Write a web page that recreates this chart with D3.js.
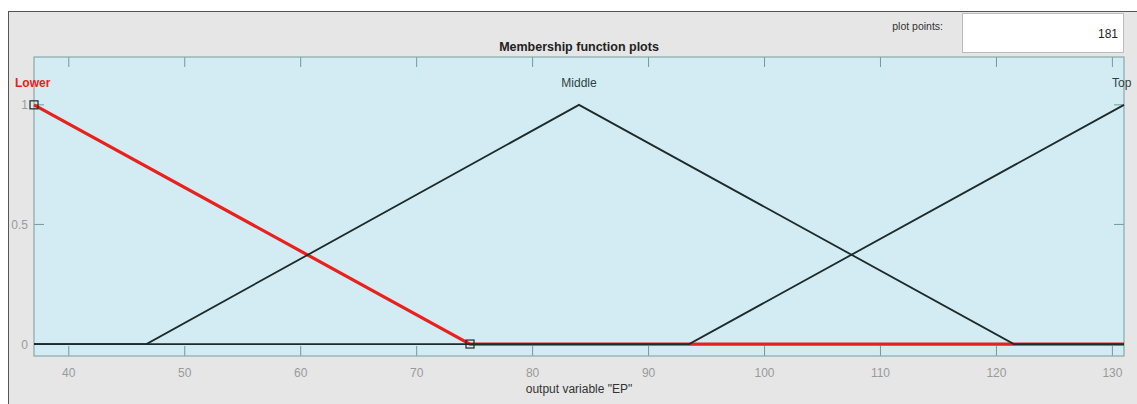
<!DOCTYPE html>
<html><head><meta charset="utf-8">
<script src="https://cdn.jsdelivr.net/npm/d3@7"></script>
<style>body{margin:0;background:#fff;font-family:"Liberation Sans",Arial,sans-serif;}</style>
</head><body>
<svg id="c" width="1137" height="404"></svg>
<script>
const xTicks = [40, 50, 60, 70, 80, 90, 100, 110, 120, 130];
const yTicks = [0, 0.5, 1];
const yTickLabels = ["0", "0.5", "1"];
const mfNames = ["Lower", "Middle", "Top"];
const mfX = [
  [37, 74.6, 131],
  [37, 46.7, 84, 121.5, 131],
  [37, 93.5, 131]
];
const mfY = [
  [1, 0, 0],
  [0, 0, 1, 0, 0],
  [0, 0, 1]
];
const labelX = [37, 84, 131];
const markerX = [37, 74.6];
const markerY = [1, 0];
const plotPoints = "181";

const svg = d3.select("#c");
const W = 1137, H = 404;
const m = {l: 34, r: 1124, t: 57, b: 356};
const x = d3.scaleLinear().domain([37, 131]).range([m.l, m.r]);
const y = d3.scaleLinear().domain([-0.05, 1.2]).range([m.b, m.t]);

// panel
svg.append("rect").attr("x", 8.5).attr("y", 11.5).attr("width", W).attr("height", H)
  .attr("fill", "#e6e6e6").attr("stroke", "#555").attr("stroke-width", 1);

// plot points box
svg.append("text").attr("x", 943).attr("y", 30).attr("text-anchor", "end")
  .attr("font-size", 10.5).attr("fill", "#333").text("plot points:");
svg.append("rect").attr("x", 962.5).attr("y", 13.5).attr("width", 161).attr("height", 39)
  .attr("fill", "#fff").attr("stroke", "#bbb");
svg.append("text").attr("x", 1118).attr("y", 38).attr("text-anchor", "end")
  .attr("font-size", 12).attr("fill", "#222").text(plotPoints);

// title
svg.append("text").attr("x", (m.l + m.r) / 2).attr("y", 51).attr("text-anchor", "middle")
  .attr("font-size", 12.5).attr("font-weight", "bold").attr("fill", "#222").text("Membership function plots");

// plot background
svg.append("rect").attr("x", m.l).attr("y", m.t).attr("width", m.r - m.l).attr("height", m.b - m.t)
  .attr("fill", "#d3ebf2");

// ticks inside
const tickCol = "#6f9c9c";
const g = svg.append("g");
xTicks.forEach(v => {
  g.append("line").attr("x1", x(v)).attr("x2", x(v)).attr("y1", m.b).attr("y2", m.b - 10).attr("stroke", tickCol);
  g.append("line").attr("x1", x(v)).attr("x2", x(v)).attr("y1", m.t).attr("y2", m.t + 10).attr("stroke", tickCol);
  g.append("text").attr("x", x(v)).attr("y", 377).attr("text-anchor", "middle")
    .attr("font-size", 12).attr("fill", "#9a9a9a").text(v);
});
yTicks.forEach((v, i) => {
  g.append("line").attr("x1", m.l).attr("x2", m.l + 10).attr("y1", y(v)).attr("y2", y(v)).attr("stroke", tickCol);
  g.append("line").attr("x1", m.r).attr("x2", m.r - 10).attr("y1", y(v)).attr("y2", y(v)).attr("stroke", tickCol);
  g.append("text").attr("x", 28).attr("y", y(v) + 4.5).attr("text-anchor", "end")
    .attr("font-size", 12).attr("fill", "#9a9a9a").text(yTickLabels[i]);
});

svg.append("rect").attr("x", m.l).attr("y", m.t).attr("width", m.r - m.l).attr("height", m.b - m.t)
  .attr("fill", "none").attr("stroke", "#88aaaa").attr("stroke-width", 1.2);

// x axis label
svg.append("text").attr("x", (m.l + m.r) / 2).attr("y", 393).attr("text-anchor", "middle")
  .attr("font-size", 12).attr("fill", "#333").text('output variable "EP"');

// lines
const line = d3.line().x(d => x(d[0])).y(d => y(d[1]));
const order = [0, 1, 2];
order.forEach(i => {
  const pts = mfX[i].map((v, j) => [v, mfY[i][j]]);
  svg.append("path").attr("d", line(pts)).attr("fill", "none")
    .attr("stroke", i === 0 ? "#e8211c" : "#1c2b2b")
    .attr("stroke-width", i === 0 ? 3.2 : 1.8).attr("stroke-linejoin", "miter");
});

// markers
markerX.forEach((v, i) => {
  svg.append("rect").attr("x", x(v) - 4).attr("y", y(markerY[i]) - 4).attr("width", 8).attr("height", 8)
    .attr("fill", "none").attr("stroke", "#1c2b2b").attr("stroke-width", 1.2);
});

// mf labels
mfNames.forEach((n, i) => {
  svg.append("text").attr("x", i === 0 ? 15 : (i === 2 ? x(labelX[i]) - 12 : x(labelX[i])))
    .attr("y", 87).attr("text-anchor", i === 1 ? "middle" : "start")
    .attr("font-size", 12).attr("font-weight", i === 0 ? "bold" : "normal")
    .attr("fill", i === 0 ? "#e8211c" : "#2a4545").text(n);
});
</script>
</body></html>
